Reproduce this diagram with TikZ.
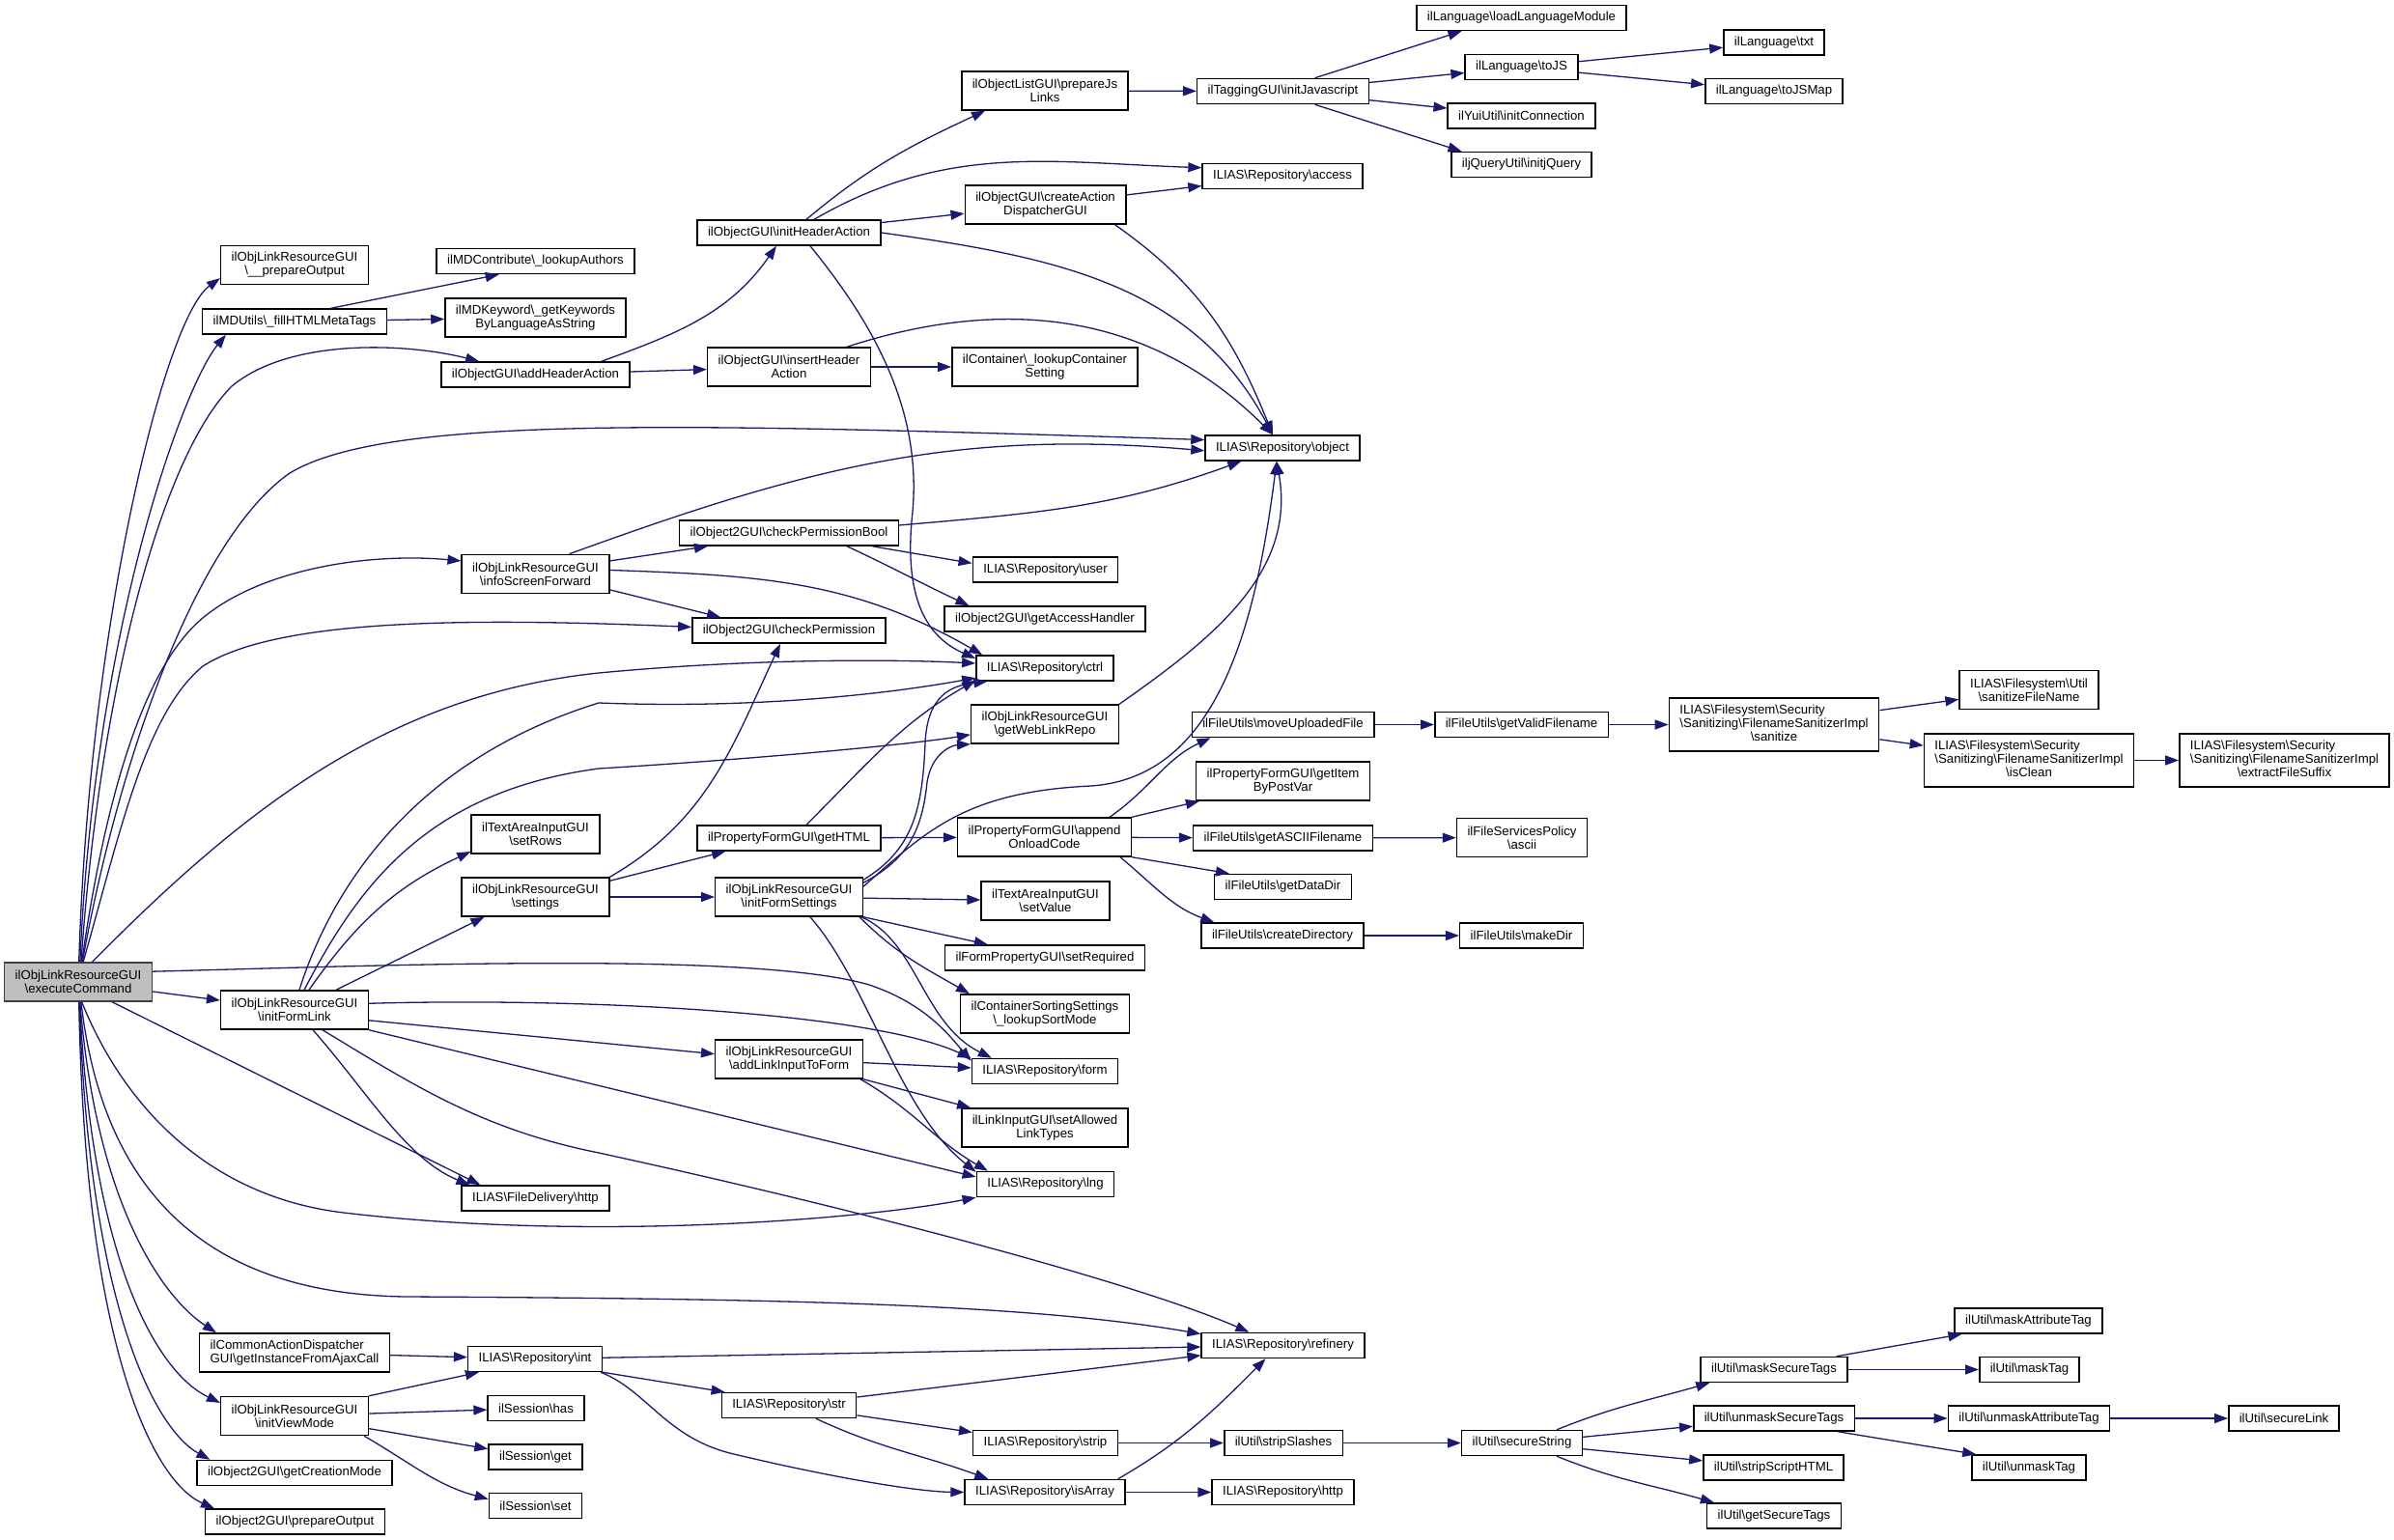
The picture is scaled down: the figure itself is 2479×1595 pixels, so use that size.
\documentclass[tikz,border=0pt]{standalone}
\usepackage{fontspec}
\setmainfont{Liberation Sans}
\usepackage{tikz}
\usetikzlibrary{arrows.meta}
\definecolor{edgeblue}{RGB}{25,25,112}
\definecolor{execgray}{RGB}{191,191,191}
\newcommand{\bsl}{\textbackslash}
\tikzstyle{fn}=[draw, rectangle, line width=1.5pt, inner xsep=11pt, inner ysep=0pt, minimum height=26pt, align=center, font=\fontsize{13.2}{14}\selectfont]
\tikzstyle{fn2}=[fn, minimum height=40pt]
\tikzstyle{fn3}=[fn, minimum height=55pt]
\tikzstyle{call}=[->, draw=edgeblue, line width=1.3pt]
\tikzset{>={Triangle[length=14pt,width=10pt]}}

\begin{document}
\begin{tikzpicture}[x=1pt, y=1pt]
\useasboundingbox[fill=white] (0,0) rectangle (2479,-1595);
% column 0 and 1
\node[fn2, fill=execgray, draw=black!75] (exec) at (81,-1017) {ilObjLinkResourceGUI\\\bsl executeCommand};
\node[fn2] (po) at (305,-274.5) {ilObjLinkResourceGUI\\\bsl\_\_prepareOutput};
\node[fn] (fh) at (305,-333) {ilMDUtils\bsl\_fillHTMLMetaTags};
\node[fn2] (ifl) at (305,-1046) {ilObjLinkResourceGUI\\\bsl initFormLink};
\node[fn2, align=left] (ajax) at (305,-1401) {ilCommonActionDispatcher\\GUI\bsl getInstanceFromAjaxCall};
\node[fn2] (ivm) at (305,-1466.5) {ilObjLinkResourceGUI\\\bsl initViewMode};
\node[fn] (gcm) at (305,-1525.5) {ilObject2GUI\bsl getCreationMode};
\node[fn] (o2po) at (305.5,-1576) {ilObject2GUI\bsl prepareOutput};
% column 2
\node[fn] (la) at (554.5,-270.5) {ilMDContribute\bsl\_lookupAuthors};
\node[fn2] (gk) at (554.5,-329) {ilMDKeyword\bsl\_getKeywords\\ByLanguageAsString};
\node[fn] (ah) at (554.5,-388) {ilObjectGUI\bsl addHeaderAction};
\node[fn2] (isf) at (554.5,-594.5) {ilObjLinkResourceGUI\\\bsl infoScreenForward};
\node[fn2] (rows) at (554.5,-864) {ilTextAreaInputGUI\\\bsl setRows};
\node[fn2] (set) at (554.5,-929) {ilObjLinkResourceGUI\\\bsl settings};
\node[fn] (fdh) at (554.5,-1241) {ILIAS\bsl FileDelivery\bsl http};
\node[fn] (int) at (554,-1407.5) {ILIAS\bsl Repository\bsl int};
\node[fn] (has) at (555,-1458.5) {ilSession\bsl has};
\node[fn] (get) at (554.5,-1509) {ilSession\bsl get};
\node[fn] (sset) at (554.5,-1559.5) {ilSession\bsl set};
% column 3
\node[fn] (ih) at (817,-241) {ilObjectGUI\bsl initHeaderAction};
\node[fn2] (iha) at (817,-380) {ilObjectGUI\bsl insertHeader\\Action};
\node[fn] (cpb) at (817,-552) {ilObject2GUI\bsl checkPermissionBool};
\node[fn] (cp) at (817,-653) {ilObject2GUI\bsl checkPermission};
\node[fn] (html) at (817,-868) {ilPropertyFormGUI\bsl getHTML};
\node[fn2] (ifs) at (817,-929) {ilObjLinkResourceGUI\\\bsl initFormSettings};
\node[fn2] (alf) at (817,-1097) {ilObjLinkResourceGUI\\\bsl addLinkInputToForm};
\node[fn] (str) at (817,-1455.5) {ILIAS\bsl Repository\bsl str};
% column 4
\node[fn2] (pj) at (1082,-94) {ilObjectListGUI\bsl prepareJs\\Links};
\node[fn2] (cad) at (1082.5,-212) {ilObjectGUI\bsl createAction\\DispatcherGUI};
\node[fn2] (lcs) at (1082,-380) {ilContainer\bsl\_lookupContainer\\Setting};
\node[fn] (usr) at (1082.5,-590) {ILIAS\bsl Repository\bsl user};
\node[fn] (gah) at (1082,-641) {ilObject2GUI\bsl getAccessHandler};
\node[fn] (ctrl) at (1082,-692) {ILIAS\bsl Repository\bsl ctrl};
\node[fn2] (wlr) at (1082,-750) {ilObjLinkResourceGUI\\\bsl getWebLinkRepo};
\node[fn2] (aoc) at (1081.5,-867) {ilPropertyFormGUI\bsl append\\OnloadCode};
\node[fn2] (val) at (1082.5,-933) {ilTextAreaInputGUI\\\bsl setValue};
\node[fn] (req) at (1082,-992) {ilFormPropertyGUI\bsl setRequired};
\node[fn2] (sort) at (1082,-1050) {ilContainerSortingSettings\\\bsl\_lookupSortMode};
\node[fn] (form) at (1082,-1109.5) {ILIAS\bsl Repository\bsl form};
\node[fn2] (alt) at (1082,-1168) {ilLinkInputGUI\bsl setAllowed\\LinkTypes};
\node[fn] (lng) at (1082.5,-1226.5) {ILIAS\bsl Repository\bsl lng};
\node[fn] (strip) at (1082.5,-1494.5) {ILIAS\bsl Repository\bsl strip};
\node[fn] (isarr) at (1082,-1545.5) {ILIAS\bsl Repository\bsl isArray};
% column 5
\node[fn] (ij) at (1328.5,-94.5) {ilTaggingGUI\bsl initJavascript};
\node[fn] (acc) at (1328,-182.5) {ILIAS\bsl Repository\bsl access};
\node[fn] (obj) at (1328,-464) {ILIAS\bsl Repository\bsl object};
\node[fn] (muf) at (1328.5,-750.5) {ilFileUtils\bsl moveUploadedFile};
\node[fn2] (gip) at (1328.5,-809) {ilPropertyFormGUI\bsl getItem\\ByPostVar};
\node[fn] (fname) at (1328.5,-868) {ilFileUtils\bsl getASCIIFilename};
\node[fn] (dd) at (1328.5,-918.5) {ilFileUtils\bsl getDataDir};
\node[fn] (cd) at (1328,-969) {ilFileUtils\bsl createDirectory};
\node[fn] (ref) at (1328.5,-1393.5) {ILIAS\bsl Repository\bsl refinery};
\node[fn] (ss) at (1329,-1494.5) {ilUtil\bsl stripSlashes};
\node[fn] (rhttp) at (1328.5,-1545.5) {ILIAS\bsl Repository\bsl http};
% column 6
\node[fn] (llm) at (1575.5,-18.5) {ilLanguage\bsl loadLanguageModule};
\node[fn] (tojs) at (1575.5,-69.5) {ilLanguage\bsl toJS};
\node[fn] (yui) at (1575.5,-120) {ilYuiUtil\bsl initConnection};
\node[fn] (jq) at (1575.5,-170.5) {iljQueryUtil\bsl initjQuery};
\node[fn] (gvf) at (1575.5,-750.5) {ilFileUtils\bsl getValidFilename};
\node[fn2] (pol) at (1576,-867.5) {ilFileServicesPolicy\\\bsl ascii};
\node[fn] (md) at (1575.5,-969) {ilFileUtils\bsl makeDir};
\node[fn] (sec) at (1576,-1494.5) {ilUtil\bsl secureString};
% column 7
\node[fn] (txt) at (1837,-44) {ilLanguage\bsl txt};
\node[fn] (tojsmap) at (1837,-94.5) {ilLanguage\bsl toJSMap};
\node[fn3] (san) at (1837,-750.5) {\begin{tabular}{@{}l@{}}ILIAS\bsl Filesystem\bsl Security\\\bsl Sanitizing\bsl FilenameSanitizerImpl\\\multicolumn{1}{@{}c@{}}{\bsl sanitize}\end{tabular}};
\node[fn] (mst) at (1837,-1418.5) {ilUtil\bsl maskSecureTags};
\node[fn] (ust) at (1837,-1469) {ilUtil\bsl unmaskSecureTags};
\node[fn] (ssh) at (1836.5,-1520) {ilUtil\bsl stripScriptHTML};
\node[fn] (gst) at (1837,-1570) {ilUtil\bsl getSecureTags};
% column 8 and 9
\node[fn2] (sfn) at (2101,-714.5) {ILIAS\bsl Filesystem\bsl Util\\\bsl sanitizeFileName};
\node[fn3] (clean) at (2101,-787.5) {\begin{tabular}{@{}l@{}}ILIAS\bsl Filesystem\bsl Security\\\bsl Sanitizing\bsl FilenameSanitizerImpl\\\multicolumn{1}{@{}c@{}}{\bsl isClean}\end{tabular}};
\node[fn3] (suffix) at (2365.5,-787.5) {\begin{tabular}{@{}l@{}}ILIAS\bsl Filesystem\bsl Security\\\bsl Sanitizing\bsl FilenameSanitizerImpl\\\multicolumn{1}{@{}c@{}}{\bsl extractFileSuffix}\end{tabular}};
\node[fn] (mat) at (2100.5,-1368) {ilUtil\bsl maskAttributeTag};
\node[fn] (mt) at (2101.5,-1418.5) {ilUtil\bsl maskTag};
\node[fn] (uat) at (2101,-1469) {ilUtil\bsl unmaskAttributeTag};
\node[fn] (umt) at (2101,-1520) {ilUtil\bsl unmaskTag};
\node[fn] (sl) at (2365,-1469) {ilUtil\bsl secureLink};

% calls of executeCommand
\draw[call] (exec.88) .. controls (92,-650) and (170,-330) .. (po.190);
\draw[call] (exec.85) .. controls (98,-650) and (190,-400) .. ([xshift=25pt]fh.south west);
\draw[call] (exec.82) .. controls (105,-700) and (170,-470) .. (240,-400) .. controls (300,-350) and (420,-355) .. ([xshift=40pt]ah.north west);
\draw[call] (exec.78) .. controls (120,-800) and (200,-560) .. (300,-490) .. controls (400,-430) and (700,-438) .. (obj.174);
\draw[call] (exec.80) .. controls (110,-820) and (150,-690) .. (210,-640) .. controls (270,-590) and (380,-572) .. (isf.170);
\draw[call] (exec.76) .. controls (125,-860) and (150,-740) .. (210,-690) .. controls (280,-645) and (450,-638) .. (cp.178);
\draw[call] (exec.55) .. controls (250,-840) and (400,-720) .. (620,-697) .. controls (800,-680) and (950,-684) .. (ctrl.176);
\draw[call] (exec.8) .. controls (400,-1000) and (780,-985) .. (900,-1020) .. controls (960,-1040) and (985,-1075) .. (form.172);
\draw[call] (exec) -- (ifl);
\draw[call] ([xshift=-42pt]exec.south east) -- ([xshift=20pt]fdh.north west);
\draw[call] (exec.-80) .. controls (130,-1150) and (220,-1240) .. (356,-1256) .. controls (600,-1285) and (880,-1265) .. (lng.south west);
\draw[call] (exec.-82) .. controls (105,-1220) and (200,-1340) .. (420,-1343) .. controls (800,-1345) and (1060,-1350) .. (ref.172);
\draw[call] (exec.-85) .. controls (100,-1250) and (170,-1345) .. ([xshift=18pt]ajax.north west);
\draw[call] (exec.-86) .. controls (95,-1300) and (160,-1420) .. (ivm.170);
\draw[call] (exec.-87) .. controls (92,-1350) and (160,-1480) .. ([xshift=14pt]gcm.north west);
\draw[call] (exec.-88) .. controls (88,-1400) and (160,-1535) .. ([xshift=10pt]o2po.north west);

% header action
\draw[call] (fh.20) -- (la.200);
\draw[call] (fh) -- (gk);
\draw[call] ([xshift=-30pt]ah.north east) to[out=20,in=235] ([xshift=-13pt]ih.south);
\draw[call] (ah) -- (iha);
\draw[call] ([xshift=18pt]ih.north) to[out=40,in=205] ([xshift=-62pt]pj.south);
\draw[call] ([xshift=26pt]ih.north) to[out=30,in=178] (acc.174);
\draw[call] (ih) -- (cad);
\draw[call] (ih.east) to[out=-8,in=118] ([xshift=-10pt]obj.north);
\draw[call] ([xshift=22pt]ih.south) .. controls (900,-330) and (955,-420) .. (945,-530) .. controls (935,-620) and (960,-660) .. (ctrl.172);
\draw[call] (pj) -- (ij);
\draw[call] ([xshift=33pt]ij.north) -- ([xshift=-62pt]llm.south);
\draw[call] (ij) -- (tojs);
\draw[call] (ij) -- (yui);
\draw[call] ([xshift=33pt]ij.south) -- ([xshift=-62pt]jq.north);
\draw[call] (tojs) -- (txt);
\draw[call] (tojs) -- (tojsmap);
\draw[call] (cad) -- (acc);
\draw[call] ([xshift=-12pt]cad.south east) to[out=-35,in=112] ([xshift=-10pt]obj.north);
\draw[call] (iha) -- (lcs);
\draw[call] ([xshift=60pt]iha.north) to[out=18,in=135] ([xshift=-10pt]obj.north);

% info screen and permissions
\draw[call] (isf.10) -- ([xshift=30pt]cpb.south west);
\draw[call] ([xshift=35pt]isf.north) to[out=20,in=175] (obj.182);
\draw[call] (isf.-12) -- ([xshift=30pt]cp.north west);
\draw[call] (isf.3) to[out=-2,in=150] (ctrl.168);
\draw[call] ([xshift=-28pt]cpb.south east) -- (usr.175);
\draw[call] ([xshift=60pt]cpb.south) to[out=-25,in=155] ([xshift=26pt]gah.north west);
\draw[call] ([yshift=8pt]cpb.east) to[out=5,in=200] ([xshift=38pt]obj.south west);

% settings and form
\draw[call] (set.north east) to[out=30,in=-115] ([xshift=-9pt]cp.south);
\draw[call] ([yshift=-4pt]set.north east) -- ([xshift=30pt]html.south west);
\draw[call] (set) -- (ifs);
\draw[call] (html) -- (aoc);
\draw[call] ([xshift=18pt]html.north) to[out=45,in=210] (ctrl.190);
\draw[call] ([yshift=-3pt]ifs.north east) .. controls (945,-880) and (955,-840) .. (958,-770) .. controls (960,-720) and (985,-710) .. (ctrl.193);
\draw[call] ([yshift=-6pt]ifs.north east) .. controls (940,-890) and (955,-860) .. (960,-810) .. controls (965,-780) and (985,-772) .. (wlr.195);
\draw[call] (ifs.8) .. controls (960,-860) and (1000,-820) .. (1130,-814) .. controls (1260,-805) and (1300,-650) .. ([xshift=-6pt]obj.south);
\draw[call] (wlr.north east) to[out=35,in=-80] ([xshift=-6pt]obj.south);
\draw[call] (ifs) -- (val);
\draw[call] (ifs.south east) -- ([xshift=45pt]req.north west);
\draw[call] ([xshift=-4pt]ifs.south east) to[out=-45,in=150] ([xshift=10pt]sort.north west);
\draw[call] ([xshift=-2pt]ifs.south east) .. controls (950,-975) and (955,-1060) .. (form.166);
\draw[call] ([xshift=22pt]ifs.south) .. controls (900,-1020) and (930,-1150) .. (lng.170);

% onload code
\draw[call] ([xshift=-23pt]aoc.north east) to[out=35,in=205] ([xshift=20pt]muf.south west);
\draw[call] (aoc.north east) -- ([xshift=4pt]gip.south west);
\draw[call] (aoc) -- (fname);
\draw[call] (aoc.south east) -- ([xshift=16pt]dd.north west);
\draw[call] ([xshift=-12pt]aoc.south east) to[out=-40,in=160] ([xshift=14pt]cd.north west);
\draw[call] (muf) -- (gvf);
\draw[call] (gvf) -- (san);
\draw[call] (san) -- (sfn);
\draw[call] (san) -- (clean);
\draw[call] (clean) -- (suffix);
\draw[call] (fname) -- (pol);
\draw[call] (cd) -- (md);

% initFormLink
\draw[call] ([xshift=5pt]ifl.north) .. controls (340,-930) and (420,-790) .. (620,-728) .. controls (800,-735) and (940,-715) .. (ctrl.188);
\draw[call] ([xshift=10pt]ifl.north) .. controls (370,-920) and (440,-820) .. (620,-796) .. controls (800,-785) and (950,-770) .. (wlr.188);
\draw[call] ([xshift=15pt]ifl.north) to[out=55,in=205] (rows.195);
\draw[call] ([xshift=43pt]ifl.north) -- ([xshift=24pt]set.south west);
\draw[call] (ifl.5) .. controls (600,-1033) and (900,-1048) .. (form.170);
\draw[call] (ifl.-8) -- (alf.176);
\draw[call] (ifl.south east) -- (lng.174);
\draw[call] ([xshift=19pt]ifl.south) .. controls (380,-1130) and (420,-1200) .. ([xshift=9pt]fdh.north west);
\draw[call] ([xshift=29pt]ifl.south) .. controls (430,-1125) and (500,-1170) .. (620,-1194) .. controls (900,-1255) and (1180,-1330) .. ([xshift=50pt]ref.north west);
\draw[call] (alf) -- (form);
\draw[call] (alf.south east) -- ([xshift=10pt]alt.north west);
\draw[call] ([xshift=-3pt]alf.south east) to[out=-30,in=150] (lng.167);

% view mode and strings
\draw[call] (ajax) -- (int);
\draw[call] (ivm.north east) -- ([xshift=12pt]int.south west);
\draw[call] (ivm) -- (has);
\draw[call] (ivm) -- (get);
\draw[call] ([xshift=-5pt]ivm.south east) to[out=-30,in=165] (sset.172);
\draw[call] (int) -- (ref);
\draw[call] (int.south east) -- ([xshift=4pt]str.north west);
\draw[call] ([xshift=-2pt]int.south east) .. controls (670,-1440) and (690,-1490) .. (760,-1506) .. controls (860,-1530) and (950,-1545) .. (isarr.west);
\draw[call] (str) -- (ref);
\draw[call] (str) -- (strip);
\draw[call] ([xshift=28pt]str.south) to[out=-25,in=160] ([xshift=25pt]isarr.north west);
\draw[call] (strip) -- (ss);
\draw[call] ([xshift=-8pt]isarr.north east) to[out=30,in=-135] ([xshift=-18pt]ref.south);
\draw[call] (isarr) -- (rhttp);
\draw[call] (ss) -- (sec);
\draw[call] ([xshift=36pt]sec.north) to[out=22,in=196] ([xshift=10pt]mst.south west);
\draw[call] (sec) -- (ust);
\draw[call] (sec) -- (ssh);
\draw[call] ([xshift=36pt]sec.south) to[out=-22,in=164] ([xshift=8pt]gst.north west);
\draw[call] ([xshift=-12pt]mst.north east) -- ([xshift=8pt]mat.south west);
\draw[call] (mst) -- (mt);
\draw[call] (ust) -- (uat);
\draw[call] ([xshift=-18pt]ust.south east) -- ([xshift=5pt]umt.north west);
\draw[call] (uat) -- (sl);
\end{tikzpicture}
\end{document}
